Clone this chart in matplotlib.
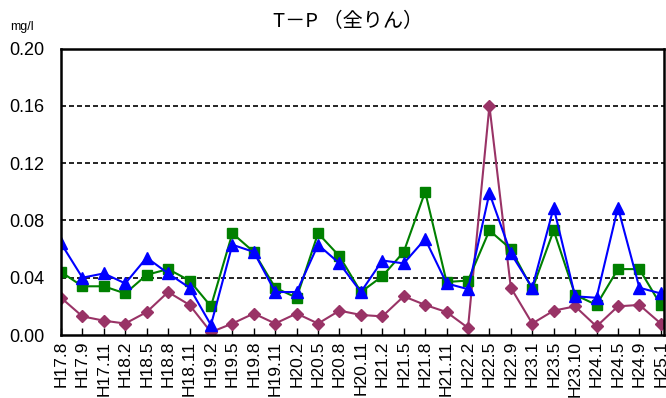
import matplotlib
matplotlib.use('Agg')
import matplotlib.pyplot as plt

labels = ['H17.8', 'H17.9', 'H17.11', 'H18.2', 'H18.5', 'H18.8', 'H18.11', 'H19.2',
          'H19.5', 'H19.8', 'H19.11', 'H20.2', 'H20.5', 'H20.8', 'H20.11', 'H21.2',
          'H21.5', 'H21.8', 'H21.11', 'H22.2', 'H22.5', 'H22.9', 'H23.1', 'H23.5',
          'H23.10', 'H24.1', 'H24.5', 'H24.9', 'H25.1']

green = [0.044, 0.034, 0.034, 0.029, 0.042, 0.046, 0.038, 0.020, 0.071, 0.058,
         0.033, 0.026, 0.071, 0.055, 0.030, 0.041, 0.058, 0.100, 0.037, 0.038,
         0.073, 0.060, 0.032, 0.073, 0.028, 0.021, 0.046, 0.046, 0.021]

blue = [0.064, 0.040, 0.043, 0.036, 0.054, 0.043, 0.033, 0.007, 0.063, 0.058,
        0.030, 0.030, 0.063, 0.050, 0.030, 0.052, 0.050, 0.067, 0.036, 0.032,
        0.099, 0.057, 0.033, 0.089, 0.027, 0.026, 0.089, 0.033, 0.029]

purple = [0.026, 0.013, 0.010, 0.008, 0.016, 0.030, 0.021, 0.002, 0.008, 0.015,
          0.008, 0.015, 0.008, 0.017, 0.014, 0.013, 0.027, 0.021, 0.016, 0.005,
          0.160, 0.033, 0.008, 0.017, 0.020, 0.006, 0.020, 0.021, 0.008]

yticks = [0.0, 0.04, 0.08, 0.12, 0.16, 0.20]
ytick_labels = ['0.00', '0.04', '0.08', '0.12', '0.16', '0.20']

fig = plt.figure(figsize=(6.66, 3.98), dpi=100)
ax = fig.add_axes([61/666, 1 - 335/398, (664 - 61)/666, (335 - 48.5)/398])

x = list(range(len(labels)))
ax.plot(x, purple, color='#993366', marker='D', markersize=6.5, linewidth=1.5)
ax.plot(x, green, color='#008000', marker='s', markersize=6.5, linewidth=1.5)
ax.plot(x, blue, color='#0000FF', marker='^', markersize=8.5, linewidth=1.5)

ax.set_xlim(0, 28.15)
ax.set_ylim(0, 0.20)
ax.set_yticks(yticks)
ax.set_yticklabels(ytick_labels, family='Liberation Sans', fontsize=13)
ax.set_xticks(x)
ax.set_xticklabels(labels, rotation=90, family='Liberation Sans', fontsize=12.5)
ax.tick_params(axis='x', direction='in', length=5, width=1, pad=4)
ax.tick_params(axis='y', direction='in', length=0, pad=12)

for v in yticks[1:-1]:
    ax.axhline(v, color='black', linestyle=(0, (3, 1.8)), linewidth=1.2, zorder=0)

for s in ax.spines.values():
    s.set_linewidth(1.8)

fig.text(348/666, 1 - 22/398, 'T－P （全りん）', ha='center', va='center',
         fontsize=14.5, family=['Noto Sans CJK JP', 'DejaVu Sans'])
fig.text(10/666, 1 - 27/398, 'mg/l', ha='left', va='center', fontsize=9,
         family='Liberation Sans')

fig.savefig('out.png', dpi=100)
